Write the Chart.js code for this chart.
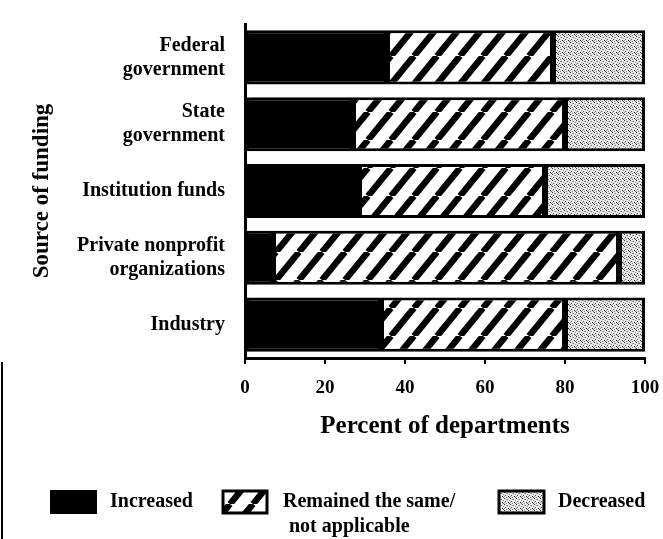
<!DOCTYPE html>
<html>
<head>
<meta charset="utf-8">
<script src="https://cdn.jsdelivr.net/npm/chart.js@4.4.0/dist/chart.umd.min.js"></script>
<style>
  html, body { margin: 0; padding: 0; background: #fff; }
  #wrap { width: 663px; height: 539px; }
</style>
</head>
<body>
<div id="wrap"><canvas id="chart" width="663" height="539"></canvas></div>
<script>
// Data
const sources = [['Federal', 'government'], ['State', 'government'], 'Institution funds', ['Private nonprofit', 'organizations'], 'Industry'];
const increased = [35.5, 27, 28.5, 7, 34];
const remained = [41.5, 53, 46.5, 86.5, 46];
const decreased = [23, 20, 25, 6.5, 20];
const xTicks = [0, 20, 40, 60, 80, 100];

const FONT = '"Liberation Serif", "DejaVu Serif", serif';

// Diagonal hatch ("/") pattern
function hatchPattern() {
    const w = 23, h = 28;
    const c = document.createElement('canvas');
    c.width = w; c.height = h;
    const g = c.getContext('2d');
    g.fillStyle = '#fff';
    g.fillRect(0, 0, w, h);
    g.strokeStyle = '#000';
    g.lineWidth = 6.5;
    for (let k = -1; k <= 1; k++) {
        g.beginPath();
        g.moveTo(k * w, h);
        g.lineTo(k * w + w, 0);
        g.stroke();
    }
    return g.createPattern(c, 'repeat');
}

// Grey stipple pattern
function dotPattern() {
    const c = document.createElement('canvas');
    c.width = 6; c.height = 6;
    const g = c.getContext('2d');
    g.fillStyle = '#e6e6e6';
    g.fillRect(0, 0, 6, 6);
    const pts = [[0, 0, '#333'], [3, 1, '#777'], [1, 3, '#555'], [4, 4, '#222'], [5, 2, '#999'],
                 [2, 5, '#888'], [2, 1, '#aaa'], [5, 5, '#666'], [0, 4, '#999']];
    pts.forEach(p => { g.fillStyle = p[2]; g.fillRect(p[0], p[1], 1, 1); });
    return g.createPattern(c, 'repeat');
}

const hatch = hatchPattern();
const dots = dotPattern();

// Legend drawn by hand, the middle label runs over two lines
const legendPlugin = {
    id: 'paperLegend',
    afterDraw(chart) {
        const ctx = chart.ctx;
        ctx.save();
        ctx.font = 'bold 20px ' + FONT;
        ctx.textBaseline = 'middle';
        ctx.fillStyle = '#000';
        ctx.strokeStyle = '#000';
        ctx.lineWidth = 3;

        ctx.fillRect(50, 490, 47, 24);
        ctx.fillText('Increased', 110, 502);

        ctx.fillStyle = hatch;
        ctx.fillRect(223, 491, 44, 22);
        ctx.strokeRect(223, 491, 44, 22);
        ctx.fillStyle = '#000';
        ctx.fillText('Remained the same/', 283, 502);
        ctx.fillText('not applicable', 289, 527);

        ctx.fillStyle = dots;
        ctx.fillRect(499, 491, 45, 22);
        ctx.strokeRect(499, 491, 45, 22);
        ctx.fillStyle = '#000';
        ctx.fillText('Decreased', 558, 502);

        // scanner edge on the left
        ctx.lineWidth = 2;
        ctx.beginPath();
        ctx.moveTo(2, 362);
        ctx.lineTo(2, 539);
        ctx.stroke();
        ctx.restore();
    }
};

const ctx = document.getElementById('chart').getContext('2d');
new Chart(ctx, {
    type: 'bar',
    data: {
        labels: sources,
        datasets: [
            { label: 'Increased', data: increased, backgroundColor: '#000', borderColor: '#000', borderWidth: 3, borderSkipped: false },
            { label: 'Remained the same/ not applicable', data: remained, backgroundColor: hatch, borderColor: '#000', borderWidth: 3, borderSkipped: false },
            { label: 'Decreased', data: decreased, backgroundColor: dots, borderColor: '#000', borderWidth: 3, borderSkipped: false }
        ]
    },
    options: {
        indexAxis: 'y',
        responsive: false,
        animation: false,
        layout: { padding: { top: 24, right: 18, bottom: 93, left: 0 } },
        plugins: {
            legend: { display: false },
            tooltip: { enabled: false }
        },
        datasets: { bar: { barPercentage: 0.81, categoryPercentage: 1 } },
        scales: {
            x: {
                stacked: true,
                min: 0,
                max: 100,
                afterBuildTicks: s => { s.ticks = xTicks.map(v => ({ value: v })); },
                afterFit: s => { s.height = 88; s.paddingLeft = 0; s.paddingRight = 0; },
                grid: { display: true, drawOnChartArea: false, drawTicks: true, tickLength: 6, color: '#000', lineWidth: 2 },
                border: { color: '#000', width: 3 },
                ticks: { color: '#000', font: { family: FONT, size: 19, weight: 'bold' }, padding: 13 },
                title: { display: true, text: 'Percent of departments', color: '#000', font: { family: FONT, size: 25, weight: 'bold' }, padding: { top: 8 } }
            },
            y: {
                stacked: true,
                afterFit: s => { s.width = 245; },
                grid: { display: false },
                border: { color: '#000', width: 3 },
                ticks: { color: '#000', font: { family: FONT, size: 20, weight: 'bold' }, padding: 12 },
                title: { display: true, text: 'Source of funding', color: '#000', font: { family: FONT, size: 23, weight: 'bold' }, padding: { top: 28 } }
            }
        }
    },
    plugins: [legendPlugin]
});
</script>
</body>
</html>
